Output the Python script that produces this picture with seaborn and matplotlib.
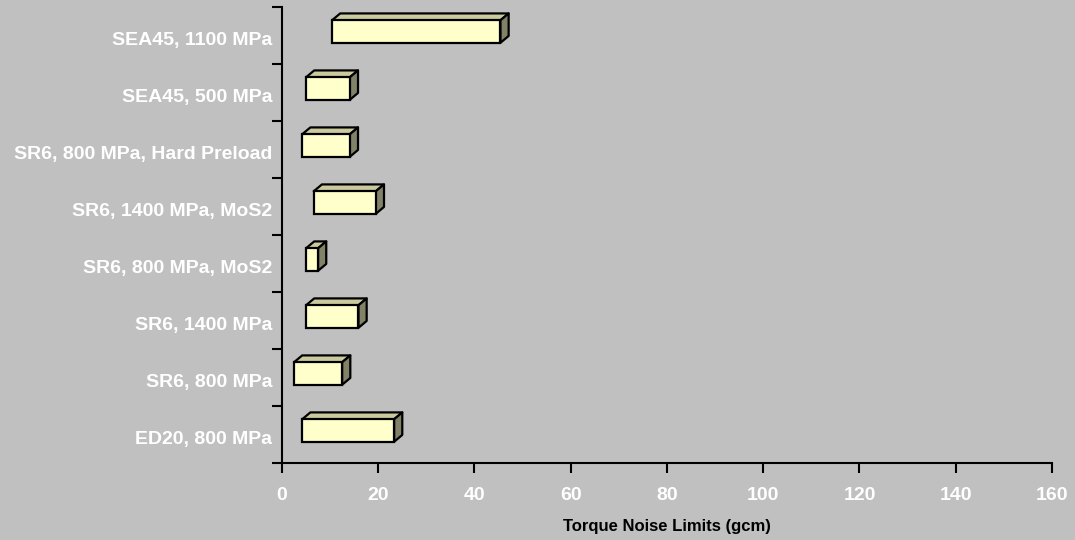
import numpy as np
import pandas as pd
import matplotlib
matplotlib.use("Agg")
import matplotlib.pyplot as plt
from matplotlib.patches import Polygon
import seaborn as sns

# torque noise ranges per bearing setup (gcm), top to bottom as in the chart
setups = ["SEA45, 1100 MPa", "SEA45, 500 MPa", "SR6, 800 MPa, Hard Preload",
          "SR6, 1400 MPa, MoS2", "SR6, 800 MPa, MoS2", "SR6, 1400 MPa",
          "SR6, 800 MPa", "ED20, 800 MPa"]
noise_low = [10.4, 5.0, 4.2, 6.6, 5.0, 5.0, 2.5, 4.2]
noise_high = [45.4, 14.1, 14.1, 19.5, 7.5, 15.9, 12.5, 23.3]
x_ticks = [0, 20, 40, 60, 80, 100, 120, 140, 160]

df = pd.DataFrame({"setup": setups, "low": noise_low, "high": noise_high})
df["span"] = df["high"] - df["low"]

sns.set_style("white")
plt.rcParams["font.family"] = ["Liberation Sans", "DejaVu Sans"]

bg = "#C0C0C0"
front_col, top_col, side_col = "#FFFFCC", "#CACA9E", "#828268"

fig = plt.figure(figsize=(10.75, 5.4), dpi=100, facecolor=bg)
ax = fig.add_axes([0.2623, 0.1426, 0.7163, 0.8444])
ax.set_facecolor(bg)

bar_h = 0.395
shift = 0.07
sns.barplot(data=df, x="span", y="setup", orient="h", order=setups,
            width=bar_h, color=front_col, saturation=1, errorbar=None,
            edgecolor="black", linewidth=1.6, ax=ax, zorder=3)

ax.set_xlim(0, 160)
ax.set_ylim(len(setups) - 0.5, -0.5)

# depth of the 3D effect in data units (8 px right, 7 px up)
dx, dy = 1.7, 0.12
patches = sorted(ax.patches, key=lambda p: p.get_y())
for i, p in enumerate(patches):
    x0, x1 = noise_low[i], noise_high[i]
    yt = i - bar_h / 2 - shift
    yb = yt + bar_h
    p.set_x(x0)
    p.set_y(yt)
    top = Polygon([(x0, yt), (x1, yt), (x1 + dx, yt - dy), (x0 + dx, yt - dy)],
                  closed=True, facecolor=top_col, edgecolor="black", lw=1.6,
                  joinstyle="round", zorder=2)
    side = Polygon([(x1, yt), (x1, yb), (x1 + dx, yb - dy), (x1 + dx, yt - dy)],
                   closed=True, facecolor=side_col, edgecolor="black", lw=1.6,
                   joinstyle="round", zorder=2)
    ax.add_patch(top)
    ax.add_patch(side)

for s in ["top", "right"]:
    ax.spines[s].set_visible(False)
for s in ["left", "bottom"]:
    ax.spines[s].set_color("black")
    ax.spines[s].set_linewidth(1.5)

ax.set_xticks(x_ticks)
ax.set_xticklabels([str(t) for t in x_ticks])
ax.set_yticks(np.arange(-0.5, len(setups)), labels=[""] * (len(setups) + 1))
# category labels sit slightly below the middle of each band
ax.set_yticks(np.arange(len(setups)) + 0.05, labels=setups, minor=True)
ax.tick_params(axis="both", which="major", direction="out", length=7,
               width=1.5, color="black", labelcolor="white",
               labelsize=14, bottom=True, left=True)
ax.tick_params(axis="x", which="major", pad=10)
ax.tick_params(axis="y", which="minor", length=0, labelcolor="white",
               labelsize=14, pad=7, left=True)
for lab in ax.get_xticklabels() + ax.get_yticklabels(minor=True):
    lab.set_fontweight("bold")

ax.set_ylabel("")
ax.set_xlabel("Torque Noise Limits (gcm)", fontsize=12, fontweight="bold",
              color="black", labelpad=11)

fig.savefig("out.png", dpi=100, facecolor=bg)
